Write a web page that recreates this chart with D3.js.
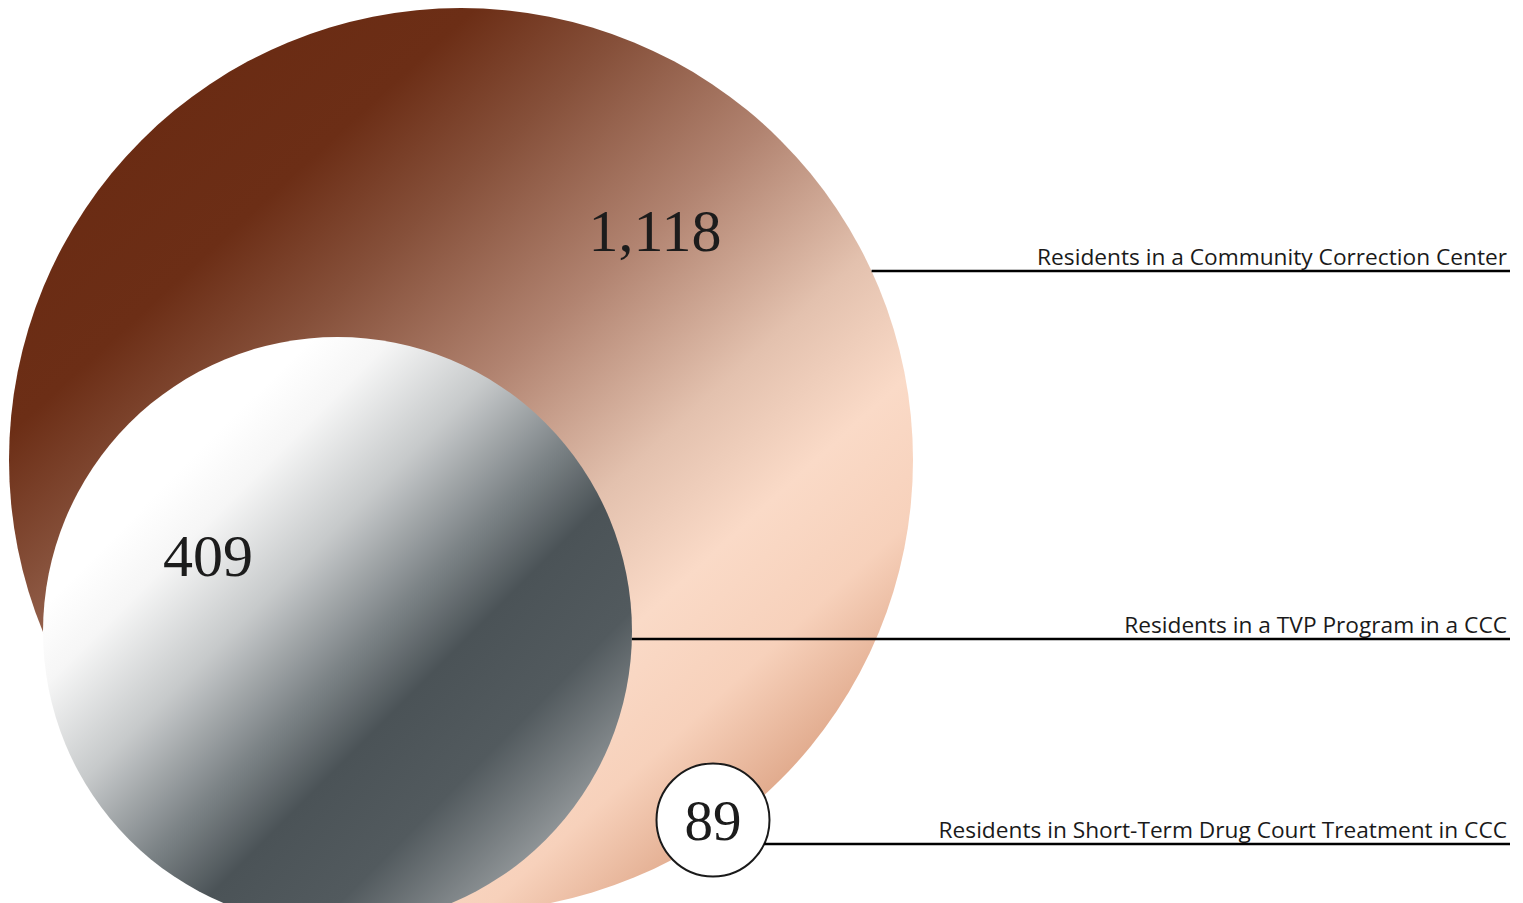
<!DOCTYPE html>
<html>
<head>
<meta charset="utf-8">
<script src="https://cdn.jsdelivr.net/npm/d3@7"></script>
<style>
  html, body { margin: 0; padding: 0; background: #ffffff; overflow: hidden; }
  svg { display: block; }
</style>
</head>
<body>
<svg id="chart" width="1523" height="903"></svg>
<script>
// ---- data ----
const categories = [
  "Residents in a Community Correction Center",
  "Residents in a TVP Program in a CCC",
  "Residents in Short-Term Drug Court Treatment in CCC"
];
const values = [1118, 409, 89];
const valueLabels = ["1,118", "409", "89"];

// ---- layout ----
const W = 1523, H = 903;
const svg = d3.select("#chart");
const fmt = d3.format(",");

const radius = d3.scaleOrdinal().domain(categories).range([452, 294.5, 56.5]);
const cx = d3.scaleOrdinal().domain(categories).range([461, 337.5, 713]);
const cy = d3.scaleOrdinal().domain(categories).range([460, 631.5, 820]);
const leaderY = d3.scaleOrdinal().domain(categories).range([271, 639, 844]);
const labelPos = d3.scaleOrdinal().domain(categories).range([[655, 251], [208, 576], [713, 840]]);
const labelSize = d3.scaleOrdinal().domain(categories).range([60, 60, 57]);

const defs = svg.append("defs");
const g1 = defs.append("linearGradient").attr("id", "gBrown")
  .attr("gradientUnits", "userSpaceOnUse")
  .attr("x1", 150).attr("y1", 100).attr("x2", 880).attr("y2", 900);
[[0, "#6a2b13"], [0.14, "#6c2e16"], [0.25, "#86503a"], [0.4, "#b18370"],
 [0.55, "#e3c1ae"], [0.66, "#fadac7"], [0.76, "#f7d1bb"], [0.88, "#dca283"], [1, "#bd7856"]]
  .forEach(([o, c]) => g1.append("stop").attr("offset", o).attr("stop-color", c));

const g2 = defs.append("linearGradient").attr("id", "gGray")
  .attr("gradientUnits", "userSpaceOnUse")
  .attr("x1", 325).attr("y1", 325).attr("x2", 725).attr("y2", 725);
[[0, "#ffffff"], [0.1, "#f6f6f6"], [0.27, "#c6c9ca"], [0.44, "#7e8588"],
 [0.57, "#4b5357"], [0.74, "#525a5e"], [1, "#a9adaf"]]
  .forEach(([o, c]) => g2.append("stop").attr("offset", o).attr("stop-color", c));

const fills = ["url(#gBrown)", "url(#gGray)", "#ffffff"];
const data = categories.map((c, i) => ({ cat: c, value: values[i], label: valueLabels[i], fill: fills[i] }));

// circles
svg.selectAll("circle.bubble").data(data).join("circle")
  .attr("class", "bubble")
  .attr("cx", d => cx(d.cat))
  .attr("cy", d => cy(d.cat))
  .attr("r", d => radius(d.cat))
  .attr("fill", d => d.fill)
  .attr("stroke", (d, i) => i === 2 ? "#1a1a1a" : "none")
  .attr("stroke-width", 2);

// leader lines, starting at the circle's right edge
svg.selectAll("line.leader").data(data).join("line")
  .attr("class", "leader")
  .attr("x1", d => {
    const r = radius(d.cat), dy = leaderY(d.cat) - cy(d.cat);
    return cx(d.cat) + Math.sqrt(Math.max(0, r * r - dy * dy));
  })
  .attr("x2", 1510)
  .attr("y1", d => leaderY(d.cat))
  .attr("y2", d => leaderY(d.cat))
  .attr("stroke", "#000")
  .attr("stroke-width", 2.6);

// category labels
svg.selectAll("text.cat").data(data).join("text")
  .attr("class", "cat")
  .attr("x", 1507)
  .attr("y", d => leaderY(d.cat) - 6)
  .attr("text-anchor", "end")
  .attr("font-family", "'Open Sans', 'Noto Sans', sans-serif")
  .attr("font-size", 22.7)
  .attr("fill", "#1a1a1a")
  .text(d => d.cat);

// value labels
svg.selectAll("text.val").data(data).join("text")
  .attr("class", "val")
  .attr("x", d => labelPos(d.cat)[0])
  .attr("y", d => labelPos(d.cat)[1])
  .attr("text-anchor", "middle")
  .attr("font-family", "'Liberation Serif', 'DejaVu Serif', serif")
  .attr("font-size", d => labelSize(d.cat))
  .attr("fill", "#1c1c1c")
  .text(d => fmt(d.value));
</script>
</body>
</html>
